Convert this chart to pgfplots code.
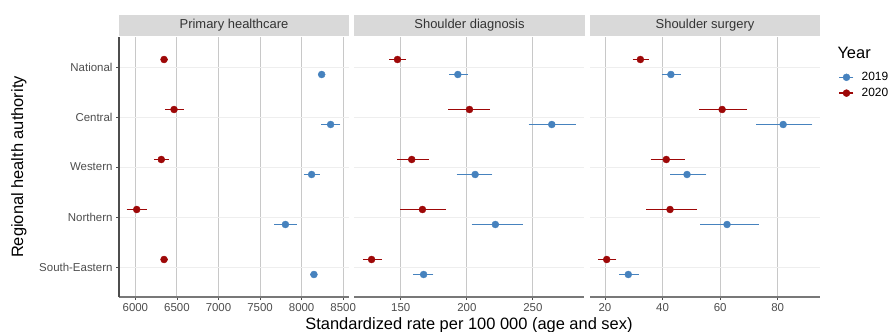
\documentclass[border=0pt]{standalone}
\usepackage{pgfplots}
\pgfplotsset{compat=1.18}
\usepackage{pgfplotstable}
\usepackage{fontspec}
\setmainfont{Liberation Sans}
\definecolor{c19}{RGB}{70,130,190}
\definecolor{c20}{RGB}{158,8,8}
\definecolor{stripc}{RGB}{217,217,217}
\definecolor{tickgray}{RGB}{77,77,77}
\definecolor{botgray}{RGB}{120,120,120}
\definecolor{vgrid}{RGB}{200,200,200}
\definecolor{hgrid}{RGB}{238,238,238}

% Primary healthcare
\pgfplotstableread{
y x lo hi
5.15 6345 6330 6360
4.15 6465 6380 6553
3.15 6312 6250 6374
2.15 6016 5920 6112
1.15 6345 6330 6360
}\phA
\pgfplotstableread{
y x lo hi
4.85 8241 8226 8256
3.85 8349 8260 8440
2.85 8120 8052 8189
1.85 7805 7699 7912
0.85 8148 8133 8163
}\phB
% Shoulder diagnosis
\pgfplotstableread{
y x lo hi
5.15 147.5 143.0 152.3
4.15 202.0 187.7 215.8
3.15 158.3 149.0 169.6
2.15 166.4 151.3 182.7
1.15 127.9 122.9 134.2
}\sdA
\pgfplotstableread{
y x lo hi
4.85 193.2 188.2 199.0
3.85 264.3 248.5 280.6
2.85 206.3 194.0 217.7
1.85 221.6 205.3 240.5
0.85 167.3 161.0 173.1
}\sdB
% Shoulder surgery
\pgfplotstableread{
y x lo hi
5.15 32.3 30.4 34.4
4.15 60.7 53.6 68.6
3.15 41.3 36.6 47.0
2.15 42.6 35.1 51.1
1.15 20.6 18.3 23.2
}\ssA
\pgfplotstableread{
y x lo hi
4.85 42.9 40.5 45.6
3.85 81.9 73.3 91.3
2.85 48.5 43.4 54.5
1.85 62.4 53.8 72.7
0.85 28.1 25.8 31.0
}\ssB

\pgfplotsset{
  facet/.style={
    scale only axis, width=230bp, height=260bp,
    ymin=0.4, ymax=5.6, ytick={1,2,3,4,5},
    axis lines*=left,
    x axis line style={-, draw=botgray, line width=1.7bp},
    y axis line style={-, draw=tickgray, line width=1.1bp},
    tick align=outside, major tick length=3bp,
    tick style={draw=tickgray, line width=0.8bp},
    xmajorgrids, ymajorgrids,
    x grid style={vgrid, line width=0.9bp},
    y grid style={hgrid, line width=0.9bp},
    ticklabel style={font=\fontsize{11.5}{13}\selectfont, text=tickgray},
    /pgf/number format/assume math mode=true,
    /pgf/number format/set thousands separator={},
    clip=false,
  },
  ptA/.style={only marks, mark=*, mark size=3.5bp, draw=c19, fill=c19,
    error bars/.cd, x dir=both, x explicit,
    error bar style={draw=c19, line width=1.3bp},
    error mark options={draw=c19, mark size=2.2bp, line width=1.1bp}},
  ptB/.style={only marks, mark=*, mark size=3.5bp, draw=c20, fill=c20,
    error bars/.cd, x dir=both, x explicit,
    error bar style={draw=c20, line width=1.3bp},
    error mark options={draw=c20, mark size=2.2bp, line width=1.1bp}},
  legend image code/.code={
    \draw[#1, mark=none, line width=1.3bp] (-7bp,0bp) -- (7bp,0bp);
    \draw[#1, only marks] plot coordinates {(0bp,0bp)};
    \path (13bp,0bp);
  },
}

\begin{document}
\begin{tikzpicture}
\useasboundingbox (0bp,0bp) rectangle (894bp,332bp);

% strips
\fill[stripc] (119bp,296bp) rectangle (349bp,317bp);
\fill[stripc] (354bp,296bp) rectangle (585bp,317bp);
\fill[stripc] (590bp,296bp) rectangle (820bp,317bp);
\node[font=\fontsize{13}{15}\selectfont, text=black!80] at (234bp,306.5bp) {Primary healthcare};
\node[font=\fontsize{13}{15}\selectfont, text=black!80] at (469.5bp,306.5bp) {Shoulder diagnosis};
\node[font=\fontsize{13}{15}\selectfont, text=black!80] at (705bp,306.5bp) {Shoulder surgery};

\begin{axis}[facet, at={(119bp,35bp)}, anchor=south west,
  xmin=5803, xmax=8570, xtick={6000,6500,7000,7500,8000,8500},
  yticklabels={South-Eastern,Northern,Western,Central,National},
  ylabel={Regional health authority},
  ylabel style={at={(axis description cs:-0.435,0.5)}, anchor=center, font=\fontsize{16.5}{18}\selectfont},
]
\addplot[ptA] table[x=x, y=y, x error plus expr=\thisrow{hi}-\thisrow{x}, x error minus expr=\thisrow{x}-\thisrow{lo}] {\phB};
\addplot[ptB] table[x=x, y=y, x error plus expr=\thisrow{hi}-\thisrow{x}, x error minus expr=\thisrow{x}-\thisrow{lo}] {\phA};
\end{axis}

\begin{axis}[facet, at={(354bp,35bp)}, anchor=south west,
  xmin=114.6, xmax=288.7, xtick={150,200,250},
  yticklabels={}, y axis line style={draw=none}, ytick style={draw=none},
  xlabel={Standardized rate per 100 000 (age and sex)},
  xlabel style={at={(axis description cs:0.5,-0.110)}, anchor=center, font=\fontsize{16.5}{18}\selectfont},
]
\addplot[ptA] table[x=x, y=y, x error plus expr=\thisrow{hi}-\thisrow{x}, x error minus expr=\thisrow{x}-\thisrow{lo}] {\sdB};
\addplot[ptB] table[x=x, y=y, x error plus expr=\thisrow{hi}-\thisrow{x}, x error minus expr=\thisrow{x}-\thisrow{lo}] {\sdA};
\end{axis}

\begin{axis}[facet, at={(590bp,35bp)}, anchor=south west,
  xmin=14.8, xmax=94.7, xtick={20,40,60,80},
  yticklabels={}, y axis line style={draw=none}, ytick style={draw=none},
  legend style={at={(axis description cs:1.068,0.88)}, anchor=north west,
    draw=none, fill=none, font=\fontsize{12}{14}\selectfont, row sep=2bp},
  legend cell align=left,
]
\addplot[ptA] table[x=x, y=y, x error plus expr=\thisrow{hi}-\thisrow{x}, x error minus expr=\thisrow{x}-\thisrow{lo}] {\ssB};
\addlegendentry{2019}
\addplot[ptB] table[x=x, y=y, x error plus expr=\thisrow{hi}-\thisrow{x}, x error minus expr=\thisrow{x}-\thisrow{lo}] {\ssA};
\addlegendentry{2020}
\end{axis}

\node[anchor=west, font=\fontsize{16.5}{18}\selectfont] at (834bp,279bp) {Year};
\end{tikzpicture}
\end{document}
